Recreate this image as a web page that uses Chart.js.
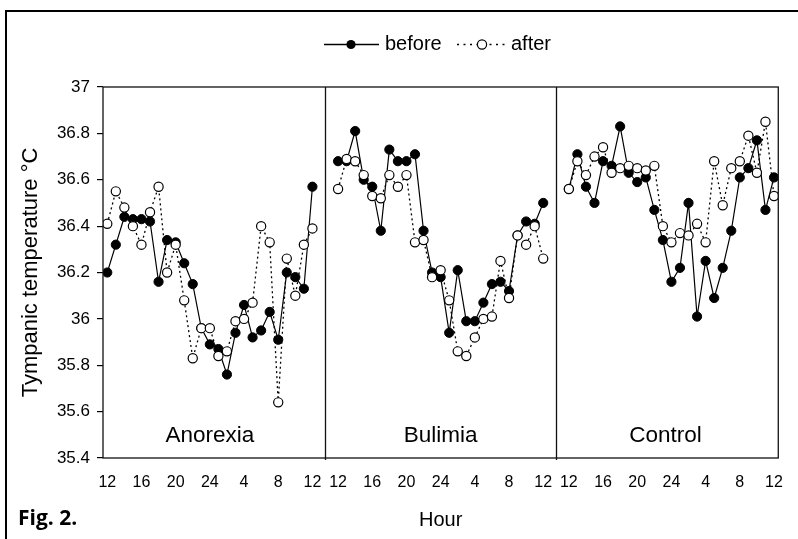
<!DOCTYPE html>
<html>
<head>
<meta charset="utf-8">
<title>Tympanic temperature before / after</title>
<script src="https://cdn.jsdelivr.net/npm/chart.js@4.4.1/dist/chart.umd.min.js"></script>
<style>
    html, body { margin: 0; padding: 0; background: #fff; }
    #wrap { position: relative; width: 798px; height: 539px; overflow: hidden; }
    #frame {
        position: absolute; left: 5px; top: 10px; right: -10px; bottom: -10px;
        border-left: 2px solid #000; border-top: 2px solid #000;
    }
    canvas { position: absolute; left: 0; top: 0; }
</style>
</head>
<body>
<div id="wrap">
    <div id="frame"></div>
    <canvas id="tempChart" width="798" height="539"></canvas>
</div>
<script>
// Tick labels under each panel (every 4 hours, noon to noon)
const hourLabels = ['12', '16', '20', '24', '4', '8', '12'];
const groups = ['Anorexia', 'Bulimia', 'Control'];
const seriesNames = ['before', 'after'];

// Hourly readings, 12:00 -> 12:00 next day (25 values per group)
const anorexiaBefore = [36.20, 36.32, 36.44, 36.43, 36.43, 36.42, 36.16, 36.34, 36.33, 36.24, 36.15, 35.96, 35.89,
                        35.87, 35.76, 35.94, 36.06, 35.92, 35.95, 36.03, 35.91, 36.20, 36.18, 36.13, 36.57];
const anorexiaAfter  = [36.41, 36.55, 36.48, 36.40, 36.32, 36.46, 36.57, 36.20, 36.32, 36.08, 35.83, 35.96, 35.96,
                        35.84, 35.86, 35.99, 36.00, 36.07, 36.40, 36.33, 35.64, 36.26, 36.10, 36.32, 36.39];
const bulimiaBefore  = [36.68, 36.68, 36.81, 36.60, 36.57, 36.38, 36.73, 36.68, 36.68, 36.71, 36.38, 36.20, 36.18,
                        35.94, 36.21, 35.99, 35.99, 36.07, 36.15, 36.16, 36.12, 36.36, 36.42, 36.41, 36.50];
const bulimiaAfter   = [36.56, 36.69, 36.68, 36.62, 36.53, 36.52, 36.62, 36.57, 36.62, 36.33, 36.34, 36.18, 36.21,
                        36.08, 35.86, 35.84, 35.92, 36.00, 36.01, 36.25, 36.09, 36.36, 36.32, 36.40, 36.26];
const controlBefore  = [36.56, 36.71, 36.57, 36.50, 36.68, 36.66, 36.83, 36.63, 36.59, 36.61, 36.47, 36.34, 36.16,
                        36.22, 36.50, 36.01, 36.25, 36.09, 36.22, 36.38, 36.61, 36.65, 36.77, 36.47, 36.61];
const controlAfter   = [36.56, 36.68, 36.62, 36.70, 36.74, 36.63, 36.65, 36.66, 36.65, 36.64, 36.66, 36.40, 36.33,
                        36.37, 36.36, 36.41, 36.33, 36.68, 36.49, 36.65, 36.68, 36.79, 36.63, 36.85, 36.53];

// y axis range
const yMin = 35.4;
const yMax = 37;
const yStep = 0.2;

// each panel covers 24 h, panels sit 27 h apart on one shared x scale
const panelOffset = 27;

const FONT = '"Liberation Sans", Arial, sans-serif';

const beforeSeries = [anorexiaBefore, bulimiaBefore, controlBefore];
const afterSeries = [anorexiaAfter, bulimiaAfter, controlAfter];

function toPoints(values, panel) {
    return values.map((v, i) => ({ x: panel * panelOffset + i, y: v }));
}

// Build datasets: one line per group and condition
const datasets = [];
groups.forEach((group, p) => {
    datasets.push({
        label: group + ' ' + seriesNames[0],
        data: toPoints(beforeSeries[p], p),
        borderColor: '#000',
        borderWidth: 1.2,
        pointRadius: 4.6,
        pointBackgroundColor: '#000',
        pointBorderColor: '#000',
        pointBorderWidth: 1,
        order: 1
    });
    datasets.push({
        label: group + ' ' + seriesNames[1],
        data: toPoints(afterSeries[p], p),
        borderColor: '#000',
        borderWidth: 1.3,
        borderDash: [2, 3],
        pointRadius: 4.6,
        pointBackgroundColor: '#fff',
        pointBorderColor: '#000',
        pointBorderWidth: 1.2,
        order: 0
    });
});

// x tick positions: every 4 hours inside each panel
const xTickValues = [];
groups.forEach((g, p) => {
    hourLabels.forEach((lbl, k) => xTickValues.push(p * panelOffset + k * 4));
});

/**
 * Plot frame, panel dividers, panel names and figure caption
 */
const panelPlugin = {
    id: 'panels',
    afterDraw(chart) {
        const { ctx, chartArea: a, scales: { x } } = chart;
        ctx.save();
        ctx.strokeStyle = '#111';
        ctx.lineWidth = 1.3;
        ctx.strokeRect(a.left, a.top, a.right - a.left, a.bottom - a.top);

        // dividers between the panels
        [1, 2].forEach(p => {
            const px = Math.round(x.getPixelForValue(p * panelOffset - 1.5)) + 0.5;
            ctx.beginPath();
            ctx.moveTo(px, a.top);
            ctx.lineTo(px, a.bottom + 2);
            ctx.stroke();
        });

        // group names near the bottom of each panel
        ctx.fillStyle = '#000';
        ctx.font = '22.5px ' + FONT;
        ctx.textAlign = 'center';
        ctx.textBaseline = 'middle';
        const nameOffsets = [12, 12, 11.3];
        groups.forEach((g, p) => {
            ctx.fillText(g, x.getPixelForValue(p * panelOffset + nameOffsets[p]), a.bottom - 22);
        });

        // caption
        ctx.font = 'bold 21px "Open Sans", "DejaVu Sans", sans-serif';
        ctx.textAlign = 'left';
        ctx.textBaseline = 'alphabetic';
        ctx.fillText('Fig. 2.', 18, 525);
        ctx.restore();
    }
};

/**
 * Legend: solid line with filled dot, dotted line with open dot
 */
const legendPlugin = {
    id: 'lineLegend',
    afterDraw(chart) {
        const ctx = chart.ctx;
        const y = 44.5;
        ctx.save();
        ctx.strokeStyle = '#000';
        ctx.fillStyle = '#000';
        ctx.font = '20px ' + FONT;
        ctx.textBaseline = 'middle';

        // before
        ctx.lineWidth = 1.3;
        ctx.beginPath();
        ctx.moveTo(324, y);
        ctx.lineTo(379, y);
        ctx.stroke();
        ctx.beginPath();
        ctx.arc(351, y, 4.6, 0, Math.PI * 2);
        ctx.fill();
        ctx.fillText(seriesNames[0], 385, y);

        // after
        ctx.setLineDash([2, 4.5]);
        ctx.beginPath();
        ctx.moveTo(457, y);
        ctx.lineTo(506, y);
        ctx.stroke();
        ctx.setLineDash([]);
        ctx.beginPath();
        ctx.arc(482, y, 4.6, 0, Math.PI * 2);
        ctx.fillStyle = '#fff';
        ctx.fill();
        ctx.lineWidth = 1.2;
        ctx.stroke();
        ctx.fillStyle = '#000';
        ctx.fillText(seriesNames[1], 511, y);
        ctx.restore();
    }
};

const ctx = document.getElementById('tempChart');
new Chart(ctx, {
    type: 'line',
    data: { datasets: datasets },
    options: {
        responsive: false,
        animation: false,
        events: [],
        layout: { padding: { top: 87, right: 16, left: 0, bottom: 0 } },
        plugins: {
            legend: { display: false },
            tooltip: { enabled: false }
        },
        scales: {
            x: {
                type: 'linear',
                min: -0.5,
                max: panelOffset * 2 + 24.5,
                afterFit: function(scale) { scale.height = 81; },
                afterBuildTicks: function(scale) {
                    scale.ticks = xTickValues.map(v => ({ value: v }));
                },
                ticks: {
                    autoSkip: false,
                    maxRotation: 0,
                    padding: 15,
                    color: '#000',
                    font: { family: FONT, size: 16 },
                    callback: function(value, index) {
                        return hourLabels[index % hourLabels.length];
                    }
                },
                grid: { display: false, drawTicks: false },
                border: { display: false },
                title: {
                    display: true,
                    text: 'Hour',
                    color: '#000',
                    font: { family: FONT, size: 20 },
                    padding: { top: 0, bottom: 7 }
                }
            },
            y: {
                min: yMin,
                max: yMax,
                afterFit: function(scale) { scale.width = 103; },
                ticks: {
                    stepSize: yStep,
                    padding: 7,
                    color: '#000',
                    font: { family: FONT, size: 17 },
                    callback: function(value) {
                        return String(+value.toFixed(1));
                    }
                },
                grid: {
                    drawOnChartArea: false,
                    tickLength: 6,
                    color: '#000',
                    lineWidth: 1.2
                },
                border: { display: false },
                title: {
                    display: true,
                    text: 'Tympanic temperature °C',
                    color: '#000',
                    font: { family: FONT, size: 22 },
                    padding: { top: 18, bottom: 0 }
                }
            }
        }
    },
    plugins: [panelPlugin, legendPlugin]
});
</script>
</body>
</html>
